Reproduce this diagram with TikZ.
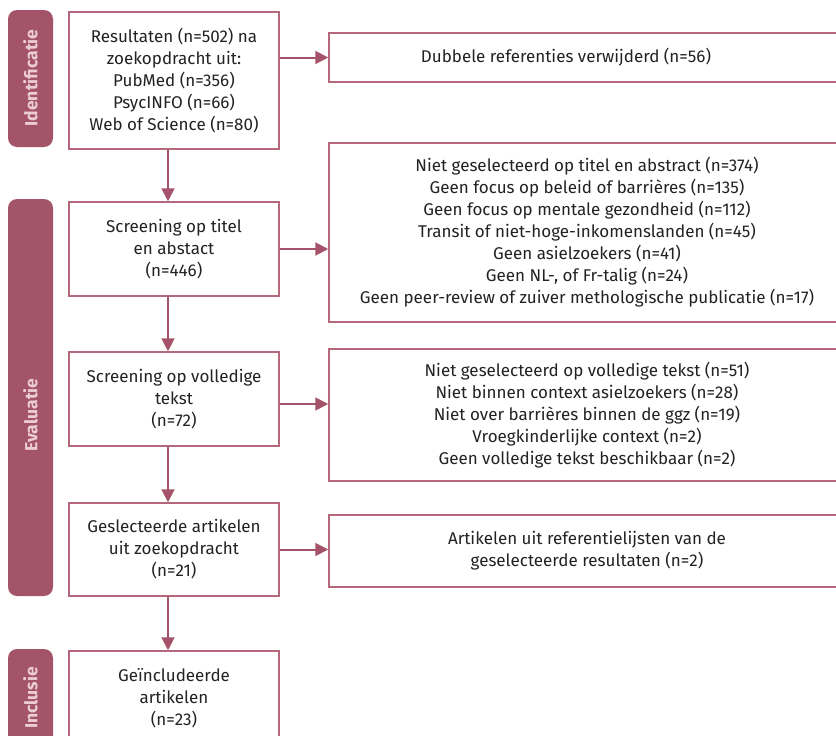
\documentclass[tikz,border=0pt]{standalone}
\usepackage{fontspec}
\setmainfont{Fira Sans}
\usetikzlibrary{arrows.meta}
\definecolor{tabfill}{HTML}{A45468}
\definecolor{tabtext}{HTML}{EDCDD5}
\definecolor{boxline}{HTML}{B3687C}
\definecolor{arrline}{HTML}{A4536A}
\definecolor{txt}{HTML}{222222}
\begin{document}
\begin{tikzpicture}[x=1pt, y=-1pt,
	box/.style={draw=boxline, line width=1.5pt, fill=white, align=center, inner sep=0pt,
		text=txt, font=\fontsize{17}{22}\selectfont},
	tab/.style={fill=tabfill, rounded corners=9pt},
	tablabel/.style={rotate=90, text=tabtext, font=\fontsize{17.5}{20}\selectfont\bfseries},
	arr/.style={draw=arrline, line width=2pt, -{Triangle[length=13pt, width=13pt]}}]
	\useasboundingbox (0,0) rectangle (836,736);
	\clip (0,0) rectangle (836,736);
	
	% fase-tabs links
	\fill [tab] (8,10) rectangle (53,147);
	\fill [tab] (8,199) rectangle (53,596);
	\fill [tab] (8,649) rectangle (53,770);
	\node [tablabel] (tid) at (30.5,78) {Identificatie};
	\node [tablabel] (tev) at (30.5,415) {Evaluatie};
	\node [tablabel] (tin) at (30.5,698) {Inclusie};
	
	% hoofdkolom
	\node [box, minimum width=210pt, minimum height=137pt] (b1) at (174,80.5)
		{Resultaten (n=502) na\\zoekopdracht uit:\\PubMed (n=356)\\PsycINFO (n=66)\\Web of Science (n=80)};
	\node [box, minimum width=210pt, minimum height=94pt] (b2) at (174,249)
		{Screening op titel\\en abstact\\(n=446)};
	\node [box, minimum width=210pt, minimum height=94pt] (b3) at (174,399)
		{Screening op volledige\\tekst\\(n=72)};
	\node [box, minimum width=210pt, minimum height=93pt] (b4) at (174,549.5)
		{Geslecteerde artikelen\\uit zoekopdracht\\(n=21)};
	\node [box, minimum width=210pt, minimum height=94pt] (b5) at (174,698)
		{Geïncludeerde\\artikelen\\(n=23)};
	
	% zijkolom
	\node [box, minimum width=516pt, minimum height=49pt] (ra) at (587,57.5)
		{\hspace*{-42pt}Dubbele referenties verwijderd (n=56)};
	\node [box, minimum width=516pt, minimum height=179pt] (rb) at (587,232.5)
		{Niet geselecteerd op titel en abstract (n=374)\\
		 Geen focus op beleid of barrières (n=135)\\
		 Geen focus op mentale gezondheid (n=112)\\
		 Transit of niet-hoge-inkomenslanden (n=45)\\
		 Geen asielzoekers (n=41)\\
		 Geen NL-, of Fr-talig (n=24)\\
		 Geen peer-review of zuiver methologische publicatie (n=17)};
	\node [box, minimum width=516pt, minimum height=132pt] (rc) at (587,415)
		{Niet geselecteerd op volledige tekst (n=51)\\
		 Niet binnen context asielzoekers (n=28)\\
		 Niet over barrières binnen de ggz (n=19)\\
		 Vroegkinderlijke context (n=2)\\
		 Geen volledige tekst beschikbaar (n=2)};
	\node [box, minimum width=516pt, minimum height=72pt] (rd) at (587,551)
		{Artikelen uit referentielijsten van de\\geselecteerde resultaten (n=2)};
	
	% pijlen
	\draw [arr] ([xshift=-6pt]b1.south) -- ([xshift=-6pt]b2.north);
	\draw [arr] ([xshift=-6pt]b2.south) -- ([xshift=-6pt]b3.north);
	\draw [arr] ([xshift=-6pt]b3.south) -- ([xshift=-6pt]b4.north);
	\draw [arr] ([xshift=-6pt]b4.south) -- ([xshift=-6pt]b5.north);
	\draw [arr] (b1.east |- ra.west) -- (ra.west);
	\draw [arr] (b2.east) -- (b2.east -| rb.west);
	\draw [arr] ([yshift=-5pt]b3.east) -- ([yshift=-5pt]b3.east -| rc.west);
	\draw [arr] (b4.east) -- (b4.east -| rd.west);
\end{tikzpicture}
\end{document}
